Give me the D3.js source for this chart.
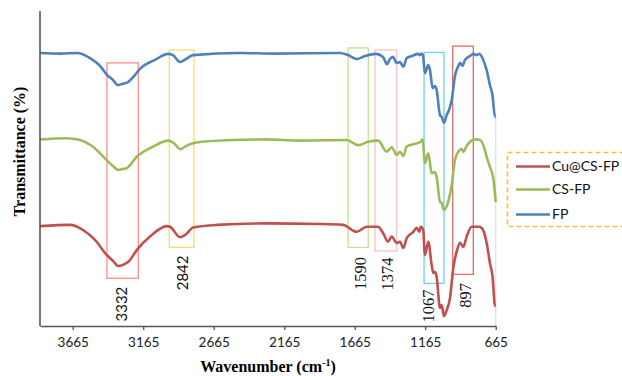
<!DOCTYPE html>
<html>
<head>
<meta charset="utf-8">
<script src="https://cdn.jsdelivr.net/npm/d3@7"></script>
<style>
  body { margin: 0; background: #fff; }
</style>
</head>
<body>
<div id="chart"></div>
<script>
// FTIR spectra, [wavenumber, transmittance (offset, a.u.)]
let fpData = [
  [3897, 91.0], [3755, 90.8], [3635, 91.0], [3542, 89.3], [3471, 86.7], [3422, 83.7],
  [3379, 82.0], [3344, 80.3], [3315, 80.7], [3273, 81.3], [3230, 83.3], [3188, 85.7],
  [3081, 88.7], [2989, 90.7], [2954, 90.3], [2904, 88.0], [2861, 89.0], [2812, 90.3],
  [2479, 91.0], [2230, 90.8], [1769, 91.0], [1713, 90.3], [1649, 89.0], [1592, 90.0],
  [1514, 90.7], [1464, 89.7], [1436, 87.3], [1415, 89.0], [1394, 89.7], [1367, 87.7],
  [1344, 88.0], [1320, 86.4], [1296, 89.3], [1259, 90.0], [1216, 90.7], [1202, 90.3],
  [1192, 90.8], [1181, 90.3], [1167, 84.3], [1143, 87.0], [1131, 85.3], [1112, 79.3],
  [1096, 80.0], [1084, 78.7], [1060, 70.3], [1048, 69.7], [1032, 67.7], [1013, 70.3],
  [996, 72.0], [977, 75.3], [954, 83.3], [930, 86.7], [918, 87.7], [900, 86.7],
  [883, 88.7], [847, 90.0], [823, 90.7], [800, 90.3], [781, 90.7], [753, 88.7],
  [729, 85.3], [706, 80.3], [688, 77.0], [670, 69.7], [665, 69.7]
];
let csfpData = [
  [3897, 62.2], [3708, 62.6], [3613, 62.0], [3528, 60.0], [3424, 55.3], [3379, 53.3],
  [3342, 52.0], [3315, 52.3], [3282, 52.6], [3211, 56.4], [3096, 59.8], [2987, 61.8],
  [2952, 61.1], [2899, 58.9], [2869, 59.8], [2798, 61.1], [2528, 62.0], [2289, 62.2],
  [2053, 61.8], [1722, 62.0], [1640, 60.3], [1569, 61.4], [1498, 61.8], [1438, 58.1],
  [1403, 59.6], [1367, 57.0], [1344, 58.1], [1320, 56.7], [1296, 59.8], [1225, 60.9],
  [1197, 61.4], [1183, 62.2], [1167, 54.2], [1143, 57.6], [1119, 50.9], [1096, 51.3],
  [1084, 49.7], [1060, 41.4], [1048, 41.0], [1032, 38.7], [1002, 41.4], [977, 47.0],
  [954, 55.3], [930, 58.1], [906, 59.0], [893, 58.0], [875, 59.7], [847, 61.4],
  [812, 62.2], [776, 62.0], [753, 60.3], [729, 56.4], [706, 53.0], [682, 49.3],
  [665, 41.3]
];
let cucsfpData = [
  [3897, 33.3], [3684, 33.7], [3592, 32.0], [3507, 28.7], [3424, 23.7], [3379, 21.7],
  [3342, 20.0], [3294, 20.7], [3271, 21.4], [3211, 25.3], [3117, 29.8], [2998, 33.3],
  [2975, 33.1], [2904, 29.6], [2869, 30.3], [2810, 32.8], [2644, 33.7], [2289, 34.2],
  [1911, 34.0], [1748, 33.7], [1651, 31.4], [1580, 33.1], [1500, 33.1], [1464, 31.0],
  [1429, 28.1], [1403, 29.8], [1367, 27.7], [1344, 28.1], [1320, 26.0], [1296, 29.3],
  [1249, 31.4], [1225, 32.7], [1207, 31.4], [1197, 33.1], [1179, 32.0], [1167, 23.7],
  [1143, 28.1], [1119, 20.3], [1108, 17.7], [1096, 18.1], [1084, 16.4], [1060, 6.0],
  [1048, 7.0], [1032, 3.3], [1013, 5.3], [989, 9.3], [966, 19.3], [942, 24.8],
  [918, 27.7], [895, 26.4], [871, 29.8], [836, 33.1], [789, 33.1], [765, 32.7],
  [729, 27.7], [706, 21.0], [687, 16.4], [670, 6.7], [665, 6.7]
];

let seriesNames = ['Cu@CS-FP', 'CS-FP', 'FP'];
let seriesColors = ['#c0504d', '#9bbb59', '#4f81bd'];
let xTicks = [3665, 3165, 2665, 2165, 1665, 1165, 665];

// highlighted bands: [from, to, top, bottom, colour]
let bands = [
  [3422, 3200, 87.7, 15.9, '#ff8c8c'],
  [2980, 2805, 92.0, 26.2, '#ffd970'],
  [1711, 1569, 92.7, 26.2, '#c2e19a'],
  [1521, 1367, 92.0, 25.0, '#f3c4c4'],
  [1173, 1032, 91.2, 14.2, '#6fd0f5'],
  [970, 824, 93.3, 17.2, '#e36b6b']
];
// peak labels: [text, wavenumber, y, serif?]
let peakLabels = [
  ['3332', 3318, 7.3, false],
  ['2842', 2883, 17.7, false],
  ['1590', 1628, 17.5, true],
  ['1374', 1433, 17.3, true],
  ['1067', 1145, 6.7, true],
  ['897', 879, 10.2, true]
];

let width = 622;
let height = 376;
let svg = d3.select('#chart')
    .append('svg')
    .attr('width', width)
    .attr('height', height);

let x = d3.scaleLinear().domain([3897, 665]).range([40, 495.7]);
let y = d3.scaleLinear().domain([0, 105]).range([326, 11]);

// band boxes
svg.append('g').selectAll('rect')
    .data(bands)
    .enter().append('rect')
    .attr('x', d => x(d[0]))
    .attr('y', d => y(d[2]))
    .attr('width', d => x(d[1]) - x(d[0]))
    .attr('height', d => y(d[3]) - y(d[2]))
    .attr('fill', 'none')
    .attr('stroke', d => d[4])
    .attr('stroke-width', 1.3);

// faint end line
svg.append('line')
    .attr('x1', x(665)).attr('x2', x(665))
    .attr('y1', y(fpData[fpData.length - 1][1])).attr('y2', y(0))
    .attr('stroke', '#dce4ee')
    .attr('stroke-width', 1.5);

let line = d3.line()
    .x(d => x(d[0]))
    .y(d => y(d[1]))
    .curve(d3.curveMonotoneX);

let allSeries = [cucsfpData, csfpData, fpData];
svg.append('g').selectAll('path')
    .data(allSeries)
    .enter().append('path')
    .attr('d', line)
    .attr('fill', 'none')
    .attr('stroke', (d, i) => seriesColors[i])
    .attr('stroke-width', 2.6)
    .attr('stroke-linejoin', 'round');

// axes
let xAxis = d3.axisBottom(x).tickValues(xTicks).tickSize(4).tickSizeOuter(0).tickFormat(d3.format('d'));
let gx = svg.append('g')
    .attr('transform', 'translate(0,' + y(0) + ')')
    .call(xAxis);
gx.select('.domain').attr('stroke', '#555').attr('stroke-width', 1.6);
gx.selectAll('.tick line').attr('stroke', '#555').attr('stroke-width', 1.3);
gx.selectAll('.tick text')
    .attr('y', 11)
    .attr('fill', '#222')
    .style('font-family', 'Lato, sans-serif')
    .style('font-size', '13.5px');

svg.append('line')
    .attr('x1', 40).attr('x2', 40)
    .attr('y1', y(105)).attr('y2', y(0))
    .attr('stroke', '#555')
    .attr('stroke-width', 1.6);

// peak labels
svg.append('g').selectAll('text')
    .data(peakLabels)
    .enter().append('text')
    .attr('transform', d => 'translate(' + x(d[1]) + ',' + y(d[2]) + ') rotate(-90)')
    .attr('text-anchor', 'middle')
    .attr('dy', '0.35em')
    .attr('fill', '#111')
    .style('font-family', d => d[3] ? '"Liberation Serif", serif' : 'Lato, sans-serif')
    .style('font-size', d => d[3] ? '16.5px' : '15px')
    .text(d => d[0]);

// axis titles
svg.append('text')
    .attr('x', 268).attr('y', 372)
    .attr('text-anchor', 'middle')
    .style('font-family', '"Liberation Serif", serif')
    .style('font-weight', 'bold')
    .style('font-size', '16px')
    .html('Wavenumber (cm<tspan dy="-6" font-size="10px">-1</tspan><tspan dy="6">)</tspan>');

svg.append('text')
    .attr('transform', 'translate(19,151.5) rotate(-90)')
    .attr('text-anchor', 'middle')
    .attr('dy', '0.35em')
    .style('font-family', '"Liberation Serif", serif')
    .style('font-weight', 'bold')
    .style('font-size', '16px')
    .text('Transmittance (%)');

// legend
svg.append('rect')
    .attr('x', 507.5).attr('y', 152.5)
    .attr('width', 130).attr('height', 74)
    .attr('fill', 'none')
    .attr('stroke', '#fbbf2f')
    .attr('stroke-width', 1.6)
    .attr('stroke-dasharray', '5,3');

let legend = svg.selectAll('.legend')
    .data(seriesNames)
    .enter().append('g')
    .attr('class', 'legend')
    .attr('transform', (d, i) => 'translate(516,' + [166.5, 189.5, 214.5][i] + ')');
legend.append('line')
    .attr('x1', 0).attr('x2', 34)
    .attr('stroke', (d, i) => seriesColors[i])
    .attr('stroke-width', 2.6);
legend.append('text')
    .attr('x', 36)
    .attr('dy', '0.35em')
    .attr('fill', '#111')
    .style('font-family', 'Lato, sans-serif')
    .style('font-size', '14px')
    .text(d => d);
</script>
</body>
</html>
